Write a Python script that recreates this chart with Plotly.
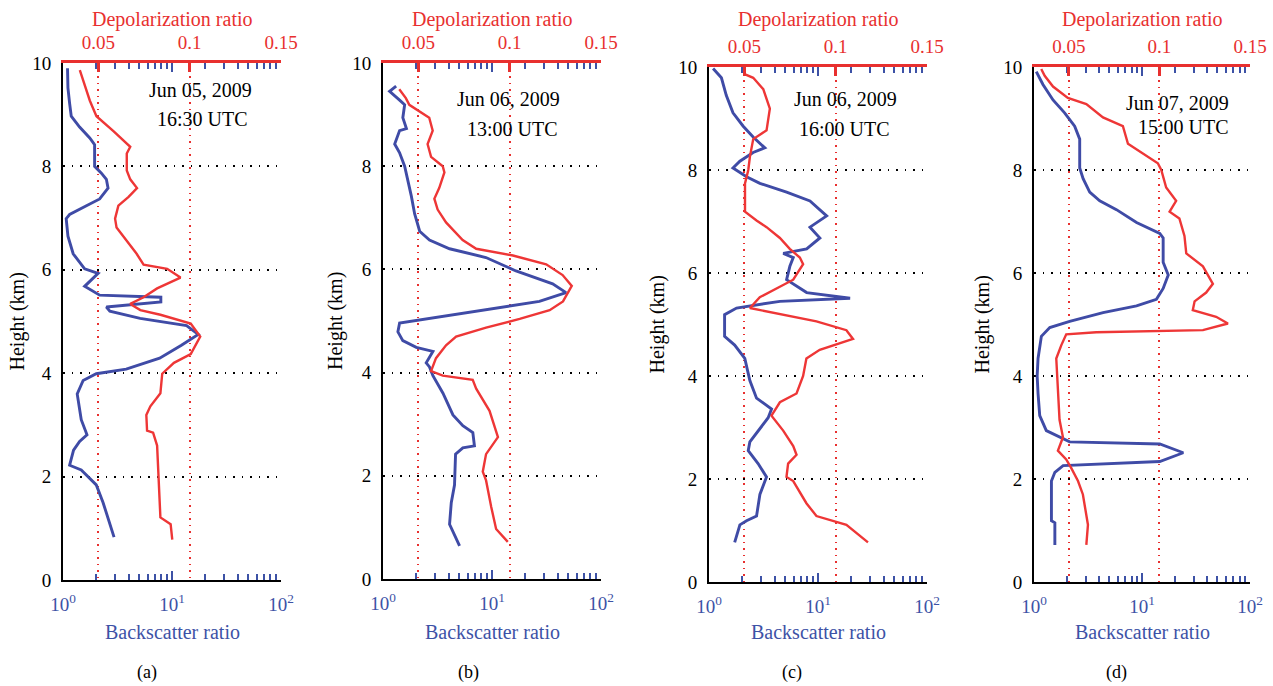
import plotly.graph_objects as go

# ---------------- data ----------------
# Panel (a) Jun 05, 2009 16:30 UTC
h_bsr_a = [0.83,1.5,1.84,1.97,2.13,2.22,2.51,2.68,2.81,3.1,3.6,3.86,3.99,4.08,4.29,4.54,4.75,4.92,5.0,5.06,5.2,5.28,5.38,5.47,5.51,5.68,5.93,6.02,6.31,6.65,6.99,7.07,7.24,7.37,7.58,7.75,7.87,8.0,8.42,8.55,8.76,8.97,9.22,9.52,9.9]
bsr_a = [2.94,2.33,2.02,1.76,1.47,1.15,1.25,1.42,1.66,1.47,1.35,1.53,2.02,3.8,7.7,12.2,17.4,13.6,7.7,5.1,2.69,2.5,7.9,7.9,2.17,1.58,2.1,1.58,1.24,1.11,1.07,1.15,1.64,2.17,2.59,2.5,2.25,1.95,1.95,1.76,1.42,1.19,1.15,1.11,1.1]
h_dep_a = [0.78,1.08,1.21,1.92,2.6,2.85,2.89,3.19,3.36,3.61,3.99,4.2,4.37,4.71,4.96,5.13,5.22,5.34,5.47,5.64,5.85,6.02,6.1,6.31,6.57,6.82,6.99,7.24,7.41,7.58,7.75,7.92,8.25,8.38,8.68,8.97,9.27,9.65,9.86]
dep_a = [0.0905,0.0896,0.084,0.083,0.0822,0.080,0.0767,0.0763,0.0785,0.084,0.085,0.0914,0.1006,0.1058,0.1006,0.084,0.073,0.0675,0.0748,0.0822,0.095,0.0877,0.0748,0.071,0.0656,0.060,0.0592,0.061,0.0666,0.0712,0.0675,0.0656,0.0656,0.0675,0.0583,0.049,0.0454,0.0417,0.0399]

# Panel (b) Jun 06, 2009 13:00 UTC
h_bsr_b = [0.64,0.85,1.06,1.48,1.82,2.42,2.54,2.58,2.84,2.97,3.18,3.6,3.94,4.11,4.19,4.41,4.49,4.62,4.79,4.96,5.0,5.08,5.21,5.38,5.55,5.72,5.97,6.23,6.4,6.57,6.74,7.08,7.42,7.75,8.0,8.26,8.43,8.69,8.73,8.94,9.19,9.28,9.45,9.55]
bsr_b = [5.04,4.53,4.08,4.23,4.53,4.63,5.4,6.9,6.67,5.4,4.38,3.55,2.87,2.67,2.49,2.87,2.02,1.52,1.37,1.42,1.88,3.3,8.2,27.2,47.8,36,16.6,8.8,4.08,2.67,2.17,1.95,1.82,1.69,1.58,1.42,1.28,1.42,1.64,1.52,1.58,1.42,1.15,1.32]
h_dep_b = [0.72,0.97,1.4,1.91,2.08,2.42,2.75,3.26,3.69,3.86,3.94,4.03,4.28,4.53,4.7,4.87,5.04,5.21,5.38,5.68,5.89,6.1,6.27,6.4,6.57,6.91,7.16,7.37,7.58,7.88,8.0,8.18,8.43,8.69,8.94,9.07,9.19,9.32,9.49]
dep_b = [0.099,0.0926,0.0899,0.0871,0.0853,0.0871,0.0936,0.089,0.0817,0.0798,0.0634,0.057,0.0597,0.0652,0.0707,0.0871,0.1055,0.1219,0.1292,0.134,0.129,0.12,0.1018,0.0817,0.0743,0.0652,0.0606,0.0588,0.0615,0.0643,0.0634,0.057,0.0551,0.0579,0.056,0.0505,0.0451,0.0432,0.0396]

# Panel (c) Jun 06, 2009 16:00 UTC
h_bsr_c = [0.77,1.11,1.19,1.28,1.7,2.04,2.3,2.55,2.72,2.98,3.19,3.36,3.57,3.91,4.34,4.6,4.77,5.19,5.32,5.45,5.51,5.62,5.87,6.13,6.3,6.38,6.47,6.68,6.89,7.11,7.4,7.57,7.74,7.87,8.04,8.17,8.34,8.43,8.64,8.85,9.11,9.45,9.79,9.97]
bsr_c = [1.72,1.92,2.21,2.73,2.93,3.37,2.82,2.29,2.37,2.93,3.49,3.75,2.73,2.37,2.13,1.72,1.39,1.39,1.79,4.47,19.7,7.87,5.15,5.52,5.93,4.8,7.87,10.4,8.44,12.0,8.44,5.15,2.93,2.21,1.66,1.92,2.54,3.25,2.54,2.06,1.66,1.44,1.3,1.09]
h_dep_c = [0.77,1.11,1.28,1.53,1.96,2.04,2.3,2.47,2.64,2.94,3.23,3.49,3.66,4.0,4.34,4.51,4.72,4.89,5.06,5.23,5.32,5.53,5.74,5.87,6.17,6.3,6.47,6.68,6.89,7.02,7.19,7.74,8.0,8.26,8.6,8.77,9.19,9.57,9.79,9.87]
dep_c = [0.1177,0.1059,0.0895,0.084,0.0768,0.0731,0.074,0.0786,0.0768,0.0713,0.0649,0.0695,0.0786,0.0822,0.084,0.0913,0.1095,0.1059,0.0895,0.0658,0.0531,0.0585,0.0695,0.0768,0.0822,0.0804,0.0749,0.0695,0.0622,0.0567,0.0504,0.0504,0.0522,0.0531,0.0549,0.0622,0.064,0.0604,0.0549,0.0495]

# Panel (d) Jun 07, 2009 15:00 UTC
h_bsr_d = [0.72,1.15,1.19,1.96,2.13,2.26,2.34,2.51,2.68,2.72,2.94,3.23,3.66,4.0,4.34,4.77,4.94,5.06,5.23,5.36,5.49,5.7,5.96,6.21,6.68,6.77,6.98,7.23,7.4,7.57,7.83,8.04,8.6,8.85,9.11,9.36,9.66,9.91]
bsr_d = [1.56,1.56,1.45,1.45,1.56,1.86,14.6,24.1,14.6,2.14,1.3,1.13,1.09,1.07,1.09,1.17,1.4,2.14,4.36,8.9,13.6,15.7,17.5,15.7,15.7,14.6,8.9,5.8,4.06,3.28,2.85,2.65,2.65,2.38,1.92,1.5,1.21,1.05]
h_dep_d = [0.72,1.11,1.7,1.96,2.21,2.38,2.55,2.81,3.15,3.66,4.34,4.6,4.81,4.85,4.89,5.02,5.15,5.28,5.45,5.62,5.79,6.13,6.38,6.72,7.06,7.19,7.4,7.66,8.0,8.13,8.51,8.85,9.02,9.28,9.4,9.62,9.83,9.96]
dep_d = [0.0596,0.0605,0.0577,0.055,0.0513,0.0485,0.0439,0.0467,0.0448,0.0439,0.043,0.0458,0.0485,0.0651,0.124,0.1378,0.1313,0.1184,0.1194,0.1258,0.1295,0.124,0.1148,0.1138,0.111,0.1056,0.1092,0.1037,0.101,0.0991,0.0826,0.0798,0.0688,0.0596,0.0494,0.0412,0.0366,0.0347]

dates = ["Jun 05, 2009", "Jun 06, 2009", "Jun 06, 2009", "Jun 07, 2009"]
times = ["16:30 UTC", "13:00 UTC", "16:00 UTC", "15:00 UTC"]
panel_labels = ["(a)", "(b)", "(c)", "(d)"]

bsr_ticks = [1, 10, 100]
bsr_ticktext = ["10<sup>0</sup>", "10<sup>1</sup>", "10<sup>2</sup>"]
bsr_minor = [2, 3, 4, 5, 6, 7, 8, 9, 20, 30, 40, 50, 60, 70, 80, 90]
dep_ticks = [0.05, 0.1, 0.15]
dep_ticktext = ["0.05", "0.1", "0.15"]
height_ticks = [0, 2, 4, 6, 8, 10]

panels = [
    (h_bsr_a, bsr_a, h_dep_a, dep_a),
    (h_bsr_b, bsr_b, h_dep_b, dep_b),
    (h_bsr_c, bsr_c, h_dep_c, dep_c),
    (h_bsr_d, bsr_d, h_dep_d, dep_d),
]

# ---------------- layout / style ----------------
W, H = 1273, 686
BLUE_LINE = "#3f4ba6"
RED_LINE = "#ee3636"
BLUE_TXT = "#3d52a6"
RED_TXT = "#e8302f"
FONT = "Liberation Serif"

# plot-area boxes in pixels: left, right, top, bottom
boxes = [(63, 281, 63, 580), (383, 601, 63, 579), (709, 927, 67, 582), (1034, 1250, 67, 582)]
date_pos = [(200, 90, 202, 119), (508, 99, 512, 129), (845, 99, 844, 129), (1177, 103, 1183, 127)]
ylabel_x = [17, 335, 657, 982]
panel_label_x = [147, 468, 792, 1116]

def px(x):
    return x / W

def py(y):
    return 1 - y / H

fig = go.Figure()
layout = dict(
    width=W, height=H,
    margin=dict(l=0, r=0, t=0, b=0, autoexpand=False),
    paper_bgcolor="white", plot_bgcolor="white",
    showlegend=False,
    font=dict(family=FONT, size=19, color="black"),
)
annotations = []

def label(text, x, y, color="black", size=20, angle=0):
    return dict(text=text, x=px(x), y=py(y), xref="paper", yref="paper",
                xanchor="center", yanchor="middle", showarrow=False,
                textangle=angle, font=dict(color=color, size=size, family=FONT))

for i, (hb, bv, hd, dv) in enumerate(panels):
    xb, xdp = i + 1, i + 5
    yl, yr = i + 1, i + 5
    L, R, T, B = boxes[i]
    xs = "" if xb == 1 else str(xb)
    ys = "" if yl == 1 else str(yl)

    fig.add_trace(go.Scatter(x=bv, y=hb, mode="lines",
                             line=dict(color=BLUE_LINE, width=2.9),
                             xaxis="x" + xs, yaxis="y" + ys))
    fig.add_trace(go.Scatter(x=dv, y=hd, mode="lines",
                             line=dict(color=RED_LINE, width=2.4),
                             xaxis="x" + str(xdp), yaxis="y" + ys))

    # bottom log axis (backscatter ratio), ticks mirrored to the top edge
    layout["xaxis" + xs] = dict(
        domain=[px(L), px(R)], anchor="y" + ys, type="log", range=[0, 2],
        tickmode="array", tickvals=bsr_ticks, ticktext=bsr_ticktext,
        ticks="inside", ticklen=9, tickwidth=2, tickcolor=BLUE_TXT,
        minor=dict(tickmode="array", tickvals=bsr_minor, ticks="inside",
                   ticklen=6, tickwidth=2, tickcolor=BLUE_TXT, showgrid=False),
        tickfont=dict(color=BLUE_TXT, size=19, family=FONT),
        showline=True, linecolor="black", linewidth=2, mirror="allticks",
        showgrid=False, zeroline=False, ticklabelstandoff=6, automargin=False,
    )
    # top depolarization axis
    layout["xaxis" + str(xdp)] = dict(
        overlaying="x" + xs, anchor="y" + ys, side="top", range=[0.0307, 0.15],
        tickmode="array", tickvals=dep_ticks, ticktext=dep_ticktext,
        ticks="inside", ticklen=9, tickwidth=2.5, tickcolor=RED_TXT,
        tickfont=dict(color=RED_TXT, size=19, family=FONT),
        showline=True, linecolor=RED_TXT, linewidth=3,
        showgrid=True, gridcolor=RED_TXT, griddash="1.5px,5px", gridwidth=1.5,
        zeroline=False, ticklabelstandoff=3, automargin=False,
    )
    # left height axis
    layout["yaxis" + ys] = dict(
        domain=[py(B), py(T)], anchor="x" + xs, range=[0, 10],
        tickmode="array", tickvals=height_ticks, ticks="",
        tickfont=dict(color="black", size=19, family=FONT),
        showline=True, linecolor="black", linewidth=2,
        showgrid=True, gridcolor="black", griddash="1.5px,7px", gridwidth=1.5,
        zeroline=False, ticklabelstandoff=6, automargin=False,
    )
    # right frame with ticks
    layout["yaxis" + str(yr)] = dict(
        overlaying="y" + ys, anchor="x" + xs, side="right", range=[0, 10],
        tickmode="array", tickvals=height_ticks, ticks="inside", ticklen=10,
        tickwidth=2, tickcolor="black", showticklabels=False,
        showline=True, linecolor="black", linewidth=2,
        showgrid=False, zeroline=False, automargin=False,
    )

    cx = (L + R) / 2
    annotations += [
        label("Depolarization ratio", cx, 20, RED_TXT, 20),
        label("Backscatter ratio", cx, 632, BLUE_TXT, 20),
        label("Height (km)", ylabel_x[i], (T + B) / 2, "black", 20, -90),
        label(panel_labels[i], panel_label_x[i], 672, "black", 18),
        label(dates[i], date_pos[i][0], date_pos[i][1], "black", 20),
        label(times[i], date_pos[i][2], date_pos[i][3], "black", 20),
    ]

layout["annotations"] = annotations
fig.update_layout(**layout)
fig.write_html("out.html", config={"displayModeBar": False},
               post_script="document.body.style.margin='0px';")
